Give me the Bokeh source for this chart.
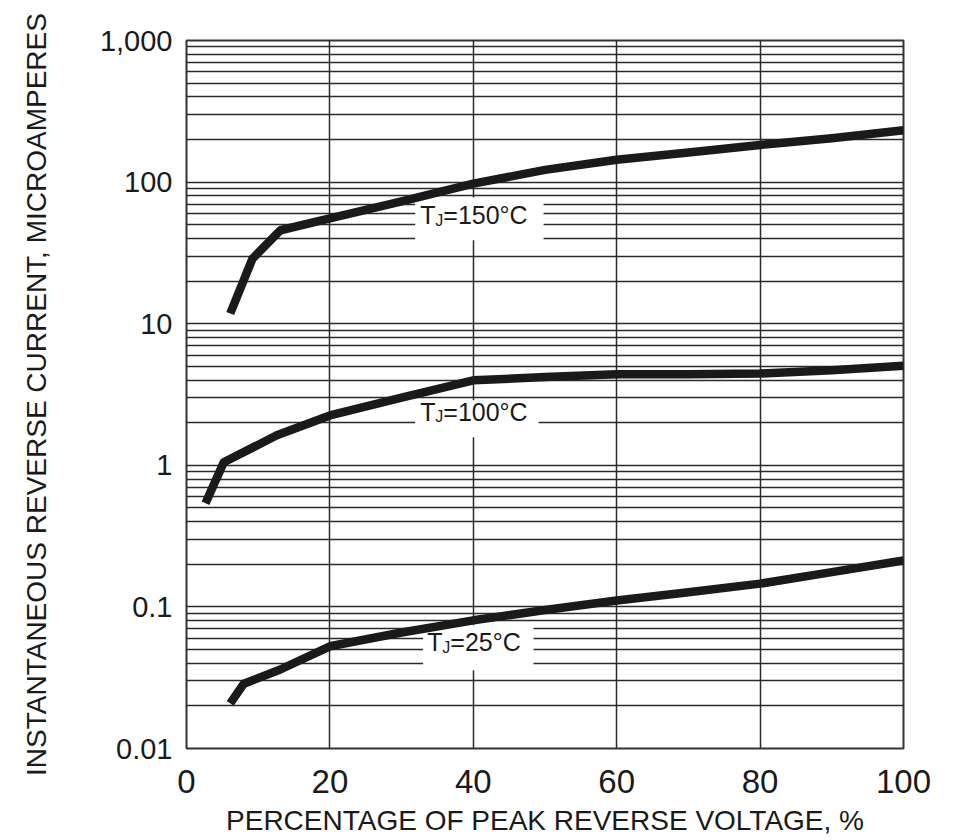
from bokeh.plotting import figure
from bokeh.models import Range1d, FixedTicker, ColumnDataSource
from bokeh.core.properties import value
from bokeh.embed import file_html
from bokeh.resources import INLINE

# ---- data ----
pct_150 = [6.1, 9.2, 13.1, 20, 30, 40, 50, 60, 70, 80, 90, 100]
cur_150 = [11.8, 28.8, 45.7, 55.5, 73, 97.6, 122, 144, 162, 183, 204, 232]

pct_100 = [2.65, 5.2, 12.6, 20, 30, 40, 50, 60, 70, 80, 90, 100]
cur_100 = [0.54, 1.05, 1.63, 2.25, 3.0, 3.98, 4.2, 4.4, 4.4, 4.45, 4.7, 5.05]

pct_25 = [6.1, 8.0, 13, 20, 30, 40, 50, 60, 70, 80, 90, 100]
cur_25 = [0.0208, 0.0287, 0.036, 0.0527, 0.066, 0.0804, 0.095, 0.111, 0.127, 0.146, 0.176, 0.213]

x_ticks = [0, 20, 40, 60, 80, 100]
y_decades = [0.01, 0.1, 1, 10, 100, 1000]
y_tick_labels = ["0.01", "0.1", "1", "10", "100", "1,000"]

temps = ["150", "100", "25"]

FONT = "Liberation Sans"
INK = "#1a1a1a"
GRID = "#2a2a2a"

p = figure(width=940, height=838, output_backend="svg", toolbar_location=None,
           x_range=Range1d(0, 100), y_range=Range1d(0.01, 1000), y_axis_type="log",
           min_border_left=186, min_border_right=37, min_border_top=40, min_border_bottom=90)

p.outline_line_color = "#333333"
p.outline_line_width = 2
p.background_fill_color = "white"
p.border_fill_color = "white"

minor = [m * d for d in y_decades[:-1] for m in range(2, 10)]
p.yaxis.ticker = FixedTicker(ticks=y_decades, minor_ticks=minor)
p.xaxis.ticker = FixedTicker(ticks=x_ticks)
p.yaxis.major_label_overrides = {t: l for t, l in zip(y_decades, y_tick_labels)}

p.xgrid.grid_line_color = GRID
p.xgrid.grid_line_width = 1.5
p.ygrid.grid_line_color = GRID
p.ygrid.grid_line_width = 1.5
p.ygrid.minor_grid_line_color = GRID
p.ygrid.minor_grid_line_width = 1.3

for ax in (p.xaxis, p.yaxis):
    ax.axis_line_color = None
    ax.major_tick_line_color = None
    ax.minor_tick_line_color = None
    ax.major_label_text_font = FONT
    ax.major_label_text_color = INK
    ax.axis_label_text_font = FONT
    ax.axis_label_text_color = INK
    ax.axis_label_text_font_style = "normal"

p.xaxis.major_label_text_font_size = "33px"
p.yaxis.major_label_text_font_size = "29px"
p.xaxis.major_label_standoff = 15
p.yaxis.major_label_standoff = 8
p.xaxis.axis_label = "PERCENTAGE OF PEAK REVERSE VOLTAGE, %"
p.yaxis.axis_label = "INSTANTANEOUS REVERSE CURRENT, MICROAMPERES"
p.xaxis.axis_label_text_font_size = "28px"
p.yaxis.axis_label_text_font_size = "28px"
p.xaxis.axis_label_standoff = 9
p.yaxis.axis_label_standoff = 45

# white boxes behind curve labels (cover grid lines)
boxes = dict(left=[31.9, 31.9, 33.0], right=[49.8, 49.1, 48.4],
             bottom=[38.8, 1.58, 0.0357], top=[78, 2.88, 0.0741])
p.quad(source=ColumnDataSource(boxes), left="left", right="right", bottom="bottom",
       top="top", fill_color="white", line_color=None)

for xs, ys in ((pct_150, cur_150), (pct_100, cur_100), (pct_25, cur_25)):
    p.line(xs, ys, line_color=INK, line_width=8.5, line_join="round", line_cap="butt")

# curve labels  T_J=...°C
lab_y = [58.3, 2.38, 0.0565]
rest = ["=" + t + "°C" for t in temps]
left_off = [-53, -53, -46]
for ly, r, lo in zip(lab_y, rest, left_off):
    p.text(x=[40], y=[ly], text=["T"], x_offset=lo, text_align="left", text_baseline="middle",
           text_font=value(FONT), text_font_size="25px", text_color=INK)
    p.text(x=[40], y=[ly], text=["J"], x_offset=lo + 15, y_offset=5, text_align="left",
           text_baseline="middle", text_font=value(FONT), text_font_size="16px", text_color=INK)
    p.text(x=[40], y=[ly], text=[r], x_offset=lo + 23, text_align="left", text_baseline="middle",
           text_font=value(FONT), text_font_size="25px", text_color=INK)

open("out.html", "w").write(file_html(p, INLINE))
